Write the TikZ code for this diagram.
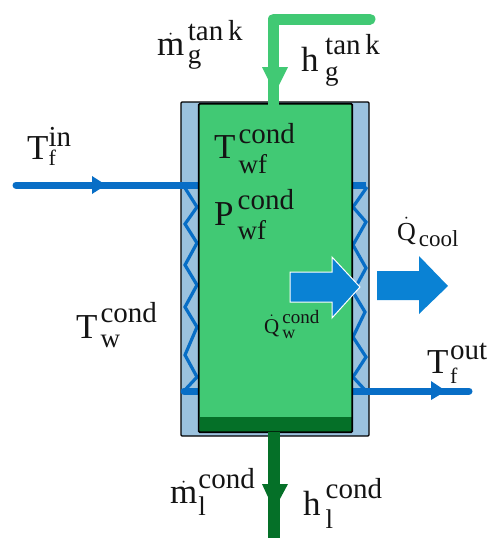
\documentclass[tikz,border=0pt]{standalone}
\usepackage{amsmath}
\usepackage{fontspec}
\setmainfont{Liberation Serif}
\usetikzlibrary{arrows.meta,calc,positioning}
\definecolor{cdgreen}{RGB}{65,201,116}
\definecolor{cddark}{RGB}{5,112,40}
\definecolor{cdblue}{RGB}{8,110,198}
\definecolor{cdbig}{RGB}{10,130,212}
\definecolor{cdwall}{RGB}{155,194,222}
\definecolor{cdtext}{RGB}{20,20,20}
% sub size, main symbol, sub, sup, raise of sup, drop of sub, kern
\newcommand{\qlbl}[7][27]{#2\kern#7pt\rlap{\raisebox{#5pt}{\fontsize{29}{30}\selectfont #4}}\raisebox{-#6pt}{\fontsize{#1}{30}\selectfont #3}}
\newcommand{\qsmall}[3]{#1\kern3pt\rlap{\raisebox{10pt}{\fontsize{19}{20}\selectfont #3}}\raisebox{-5pt}{\fontsize{18}{20}\selectfont #2}}
\begin{document}
\begin{tikzpicture}[x=1pt,y=-1pt,>=Latex,
    qlabel/.style={inner sep=0pt,text=cdtext,font=\fontsize{35}{38}\selectfont},
    zigzag/.style={cdblue,line width=3.2pt,line join=miter},
    block/.style={fill=cdbig,line join=miter}]
    \useasboundingbox (0,0) rectangle (492,550);
    % housing
    \node[draw=black,line width=1.2pt,fill=cdwall,rounded corners=1pt,minimum width=188pt,minimum height=334pt,inner sep=0pt] (wall) at (275,269) {};
    % zigzag coils
    \draw[zigzag] (185,188)--(197,207)--(185,224)--(197,243)--(185,265)--(197,285)--(185,307)--(197,327)--(185,355)--(197,377)--(184,391);
    \draw[zigzag] (367,187)--(353,207)--(366,222)--(353,245)--(366,268)--(353,292)--(365,312)--(353,337)--(366,357)--(353,377)--(365,390);
    % blue pipes
    \coordinate (fin) at (16,185);
    \coordinate (finend) at (199,185);
    \coordinate (fout) at (469,391);
    \coordinate (foutend) at (352,391);
    \draw[cdblue,line width=7pt,line cap=round] (fin)--(finend);
    \fill[cdblue] (92,176)--(106,185)--(92,194)--cycle;
    \draw[cdblue,line width=7pt,line cap=round] (foutend)--(fout);
    \fill[cdblue] (431,381)--(446,391)--(431,400)--cycle;
    \draw[cdblue,line width=7pt,line cap=round] (184,391)--(199,391);
    \draw[cdblue,line width=7pt] (352,185)--(366,185);
    % working fluid
    \node[fill=cdgreen,minimum width=153pt,minimum height=328pt,inner sep=0pt] (tank) at (275.5,268) {};
    \fill[cddark] (199.5,417) rectangle (351.5,431.5);
    \draw[line width=1.8pt,rounded corners=1pt] (tank.north west) rectangle (tank.south east);
    % green pipes
    \coordinate (gstart) at (370,19);
    \coordinate (gbend) at (273.5,19);
    \coordinate (gend) at (273.5,106);
    \draw[cdgreen,line width=11pt,line join=round,line cap=round] (gstart)--(gbend);
    \draw[cdgreen,line width=11pt,line cap=butt] (gbend)--(gend);
    \fill[cdgreen] (262,67)--(288,67)--(275,93)--cycle;
    \coordinate (lstart) at (274,432);
    \coordinate (lend) at (274,538);
    \draw[cddark,line width=12pt] (lstart)--(lend);
    \fill[cddark] (262,484)--(288,484)--(274,510)--cycle;
    % heat arrows
    \draw[block,draw=white,line width=1pt] (290,272)--(332,272)--(332,257)--(360,287)--(332,318)--(332,302)--(290,302)--cycle;
    \fill[block] (377,271)--(419,271)--(419,256)--(448,286)--(419,314)--(419,300)--(377,300)--cycle;
    % labels
    \node[qlabel,anchor=base west] (mtank) at (157,55) {\qlbl{$\dot{\mathrm{m}}$}{g}{tan\,k}{15}{8}{3.5}};
    \node[qlabel,anchor=base west] (htank) at (301,71) {\qlbl{h}{g}{tan\,k}{17}{9}{6.5}};
    \node[qlabel,anchor=base west] (twf) at (214,158) {\qlbl{T}{wf}{cond}{15}{15}{3}};
    \node[qlabel,anchor=base west] (pwf) at (214,225) {\qlbl{P}{wf}{cond}{16}{14}{4}};
    \node[qlabel,anchor=base west] (tin) at (27,159) {\qlbl[22]{T}{f}{in}{13}{6}{0}};
    \node[qlabel,anchor=base west] (tw) at (76,338) {\qlbl{T}{w}{cond}{16}{9}{3}};
    \node[qlabel,anchor=base west] (tout) at (427,373) {\qlbl[22]{T}{f}{out}{14}{10}{1.5}};
    \node[qlabel,anchor=base west,font=\fontsize{26}{30}\selectfont] (qcool) at (397,240) {$\dot{\mathrm{Q}}$\kern3pt\raisebox{-6pt}{\fontsize{23}{30}\selectfont cool}};
    \node[qlabel,anchor=base west,font=\fontsize{21}{24}\selectfont] (qw) at (264,333) {\qsmall{$\dot{\mathrm{Q}}$}{w}{cond}};
    \node[qlabel,anchor=base west] (mcond) at (170,503) {\qlbl{$\dot{\mathrm{m}}$}{l}{cond}{15}{12}{1}};
    \node[qlabel,anchor=base west] (hcond) at (303,515) {\qlbl{h}{l}{cond}{17}{13}{5}};
  \end{tikzpicture}
\end{document}
